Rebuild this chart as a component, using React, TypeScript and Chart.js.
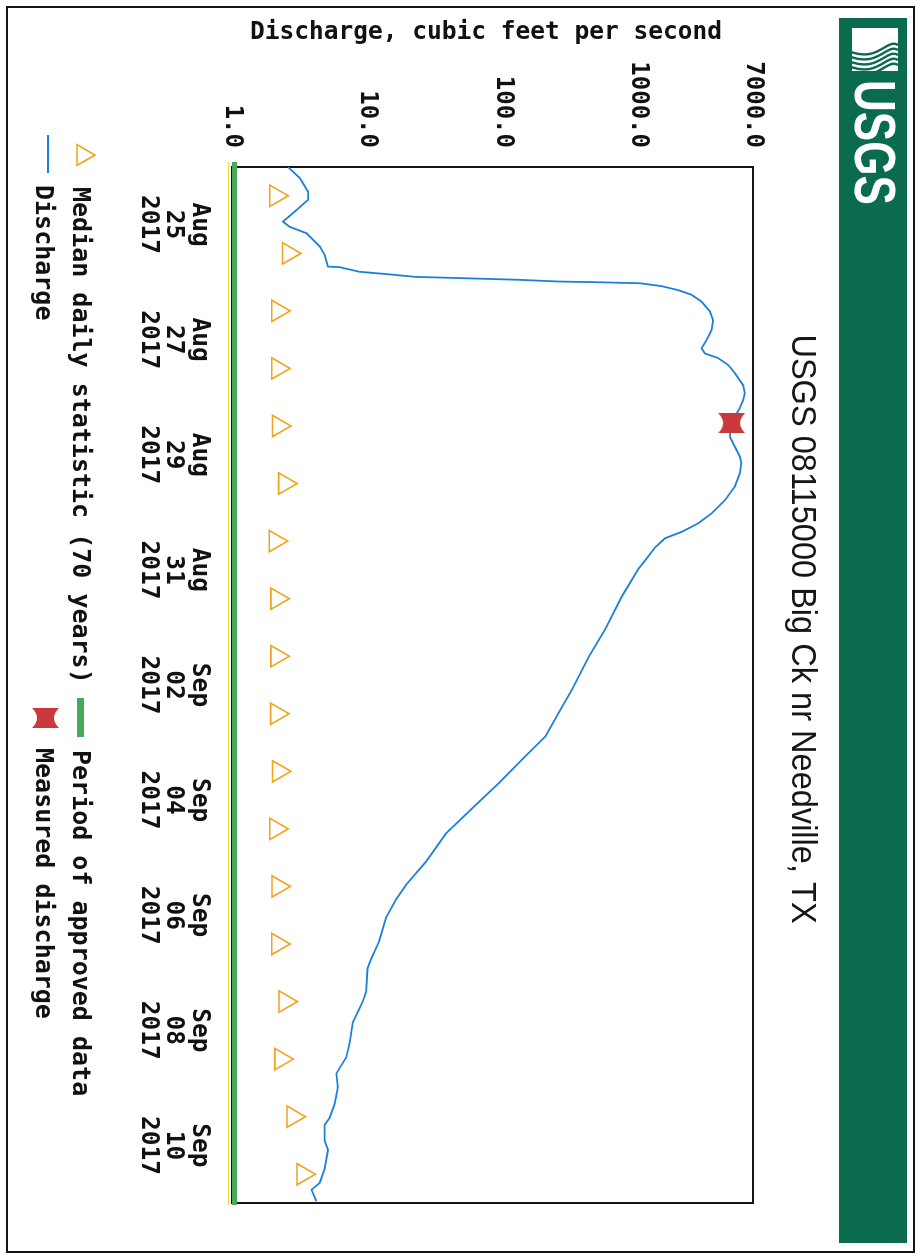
import React, { useEffect, useRef } from 'react';
import { Chart, registerables } from 'chart.js';

Chart.register(...registerables);

// Landscape drawing surface (rotated 90deg clockwise onto the page)
const W = 1257;
const H = 923;

const titleText = 'USGS 08115000 Big Ck nr Needville, TX';
const yAxisTitle = 'Discharge, cubic feet per second';
const legendMedian = 'Median daily statistic (70 years)';
const legendApproved = 'Period of approved data';
const legendDischarge = 'Discharge';
const legendMeasured = 'Measured discharge';

// Time in days since 2017-08-24 00:00, discharge in cubic feet per second
const dischargeDays = [0.00, 0.19, 0.43, 0.57, 0.75, 0.95, 1.04, 1.15, 1.38, 1.53, 1.73, 1.74, 1.82, 1.86, 1.91, 1.92,
  1.94, 1.96, 1.99, 2.00, 2.02, 2.07, 2.14, 2.22, 2.34, 2.51, 2.66, 2.83, 3.01, 3.15, 3.24, 3.32, 3.44, 3.58, 3.79, 3.93,
  4.05, 4.19, 4.33, 4.45, 4.69, 4.86, 5.03, 5.15, 5.32, 5.55, 5.79, 6.02, 6.19, 6.34, 6.45, 6.61, 6.80, 6.98, 7.46,
  8.03, 8.51, 9.08, 9.48, 9.89, 10.29, 10.70, 11.14, 11.58, 12.07, 12.47, 12.72, 13.04, 13.45, 13.77, 13.93, 14.33,
  14.50, 14.86, 15.22, 15.47, 15.75, 15.99, 16.28, 16.52, 16.64, 16.92, 17.08, 17.41, 17.65, 17.77, 17.97];
const dischargeCfs = [2.59, 3.16, 3.64, 3.64, 2.99, 2.38, 2.67, 3.54, 4.44, 4.83, 5.11, 6.22, 8.7, 13.7, 22.8, 33.8,
  66.6, 131, 258, 454, 1029, 1483, 1968, 2466, 2920, 3367, 3558, 3460, 3178, 2920, 3093, 3874, 4589, 5143, 5916, 6093,
  5916, 5594, 5167, 4830, 4723, 5143, 5594, 5750, 5594, 5143, 4345, 3460, 2763, 2081, 1571, 1327, 1151, 1000, 754,
  569, 429, 323, 258, 206, 139, 93.5, 59.5, 37.9, 27.0, 19.3, 16.3, 13.7, 12.2, 10.6, 10.0, 9.78,
  9.23, 7.80, 7.38, 6.97, 5.89, 6.05, 5.72, 5.26, 4.83, 4.83, 5.11, 4.83, 4.44, 3.86, 4.20];

const medianDays = [0.5, 1.5, 2.5, 3.5, 4.5, 5.5, 6.5, 7.5, 8.5, 9.5, 10.5, 11.5, 12.5, 13.5, 14.5, 15.5, 16.5, 17.5];
const medianCfs = [2.11, 2.62, 2.18, 2.18, 2.21, 2.45, 2.09, 2.15, 2.15, 2.14, 2.21, 2.11, 2.19, 2.18, 2.47, 2.30, 2.83, 3.35];

const measuredDays = [4.45];
const measuredCfs = [4870];

const xTickDays = [1, 3, 5, 7, 9, 11, 13, 15, 17];
const xTickLabels = [
  ['Aug', '25', '2017'], ['Aug', '27', '2017'], ['Aug', '29', '2017'], ['Aug', '31', '2017'],
  ['Sep', '02', '2017'], ['Sep', '04', '2017'], ['Sep', '06', '2017'], ['Sep', '08', '2017'], ['Sep', '10', '2017'],
];
const yTickValues = [1, 10, 100, 1000, 7000];
const yTickLabels = ['1.0', '10.0', '100.0', '1000.0', '7000.0'];

const BLUE = '#1c80d8';
const ORANGE = '#f2a31b';
const RED = '#c9383b';
const GREEN_BAR = '#0b6b4e';
const GREEN_LINE = '#48a85c';
const MONO = '"DejaVu Sans Mono", "Liberation Mono", monospace';

function makeMarker(): HTMLCanvasElement {
  const c = document.createElement('canvas');
  c.width = 20;
  c.height = 27;
  const g = c.getContext('2d') as CanvasRenderingContext2D;
  g.fillStyle = RED;
  g.beginPath();
  g.moveTo(0, 0);
  g.quadraticCurveTo(10, 10, 20, 0);
  g.lineTo(20, 27);
  g.quadraticCurveTo(10, 17, 0, 27);
  g.closePath();
  g.fill();
  return c;
}

function triangle(ctx: any, x: number, y: number, r: number) {
  let rad = 0;
  ctx.beginPath();
  ctx.moveTo(x + Math.sin(rad) * r, y - Math.cos(rad) * r);
  rad += (2 * Math.PI) / 3;
  ctx.lineTo(x + Math.sin(rad) * r, y - Math.cos(rad) * r);
  rad += (2 * Math.PI) / 3;
  ctx.lineTo(x + Math.sin(rad) * r, y - Math.cos(rad) * r);
  ctx.closePath();
  ctx.stroke();
}

export default function App() {
  const ref = useRef<HTMLCanvasElement>(null);

  useEffect(() => {
    const canvas = ref.current;
    if (!canvas) return;
    const marker = makeMarker();

    const decor = {
      id: 'decor',
      beforeDraw(chart: any) {
        const ctx = chart.ctx;
        ctx.save();
        ctx.fillStyle = '#fff';
        ctx.fillRect(0, 0, W, H);
        // outer frame
        ctx.strokeStyle = '#151515';
        ctx.lineWidth = 2;
        ctx.strokeRect(7, 9, 1245, 907);
        // banner
        ctx.fillStyle = GREEN_BAR;
        ctx.fillRect(18, 16, 1225, 68);
        // logo box
        ctx.fillStyle = '#fff';
        ctx.fillRect(28, 25, 43, 46);
        ctx.save();
        ctx.beginPath();
        ctx.rect(28, 25, 43, 46);
        ctx.clip();
        ctx.strokeStyle = GREEN_BAR;
        ctx.lineWidth = 2.4;
        for (let k = 0; k < 5; k++) {
          const o = k * 5;
          ctx.beginPath();
          ctx.moveTo(45 + o, 25);
          ctx.bezierCurveTo(38 + o, 36, 62 + o, 44, 52 + o, 72);
          ctx.stroke();
        }
        ctx.restore();
        // USGS word mark
        ctx.save();
        ctx.fillStyle = '#fff';
        ctx.font = 'bold 58px "Liberation Sans", Arial, sans-serif';
        ctx.textAlign = 'left';
        ctx.textBaseline = 'alphabetic';
        ctx.translate(80, 68);
        ctx.scale(0.76, 1);
        ctx.fillText('USGS', 0, 0);
        ctx.restore();
        // title
        ctx.save();
        ctx.fillStyle = '#161616';
        ctx.font = '35px "Liberation Sans", Arial, sans-serif';
        ctx.textAlign = 'center';
        ctx.textBaseline = 'middle';
        ctx.translate(629, 121);
        ctx.scale(0.93, 1);
        ctx.fillText(titleText, 0, 0);
        ctx.restore();
        // y axis title
        ctx.save();
        ctx.fillStyle = '#111';
        ctx.font = 'bold 24.5px ' + MONO;
        ctx.textAlign = 'center';
        ctx.textBaseline = 'middle';
        ctx.translate(33, 437);
        ctx.rotate(-Math.PI / 2);
        ctx.fillText(yAxisTitle, 0, 0);
        ctx.restore();
        // legend
        ctx.font = 'bold 25px ' + MONO;
        ctx.textAlign = 'left';
        ctx.textBaseline = 'middle';
        ctx.fillStyle = '#111';
        ctx.strokeStyle = ORANGE;
        ctx.lineWidth = 1.6;
        triangle(ctx, 155, 840, 12);
        ctx.fillText(legendMedian, 187, 843);
        ctx.fillStyle = GREEN_LINE;
        ctx.fillRect(698, 839, 39, 7);
        ctx.fillStyle = '#111';
        ctx.fillText(legendApproved, 750, 843);
        ctx.strokeStyle = BLUE;
        ctx.lineWidth = 2;
        ctx.beginPath();
        ctx.moveTo(135, 875);
        ctx.lineTo(173, 875);
        ctx.stroke();
        ctx.fillText(legendDischarge, 185, 880);
        ctx.drawImage(marker, 708, 864);
        ctx.fillText(legendMeasured, 748, 880);
        ctx.restore();
      },
      beforeDatasetsDraw(chart: any) {
        const ctx = chart.ctx;
        const { left, right, top, bottom } = chart.chartArea;
        ctx.save();
        ctx.strokeStyle = '#151515';
        ctx.lineWidth = 2;
        ctx.strokeRect(left, top, right - left, bottom - top);
        ctx.fillStyle = GREEN_LINE;
        ctx.fillRect(left - 5, bottom - 5, right - left + 7, 5);
        ctx.strokeStyle = '#e8d840';
        ctx.lineWidth = 1;
        ctx.beginPath();
        ctx.moveTo(left - 5, bottom + 3.5);
        ctx.lineTo(right + 2, bottom + 3.5);
        ctx.stroke();
        ctx.restore();
      },
    };

    const chart = new Chart(canvas, {
      type: 'line',
      data: {
        datasets: [
          {
            label: legendMeasured,
            data: measuredDays.map((d, i) => ({ x: d, y: measuredCfs[i] })),
            showLine: false,
            pointStyle: marker,
            pointRadius: 10,
          },
          {
            label: legendDischarge,
            data: dischargeDays.map((d, i) => ({ x: d, y: dischargeCfs[i] })),
            borderColor: BLUE,
            borderWidth: 1.8,
            pointRadius: 0,
            tension: 0,
            fill: false,
          },
          {
            label: legendMedian,
            data: medianDays.map((d, i) => ({ x: d, y: medianCfs[i] })),
            showLine: false,
            pointStyle: 'triangle',
            pointRadius: 12.3,
            borderColor: ORANGE,
            backgroundColor: 'rgba(0,0,0,0)',
            pointBorderWidth: 1.6,
          },
        ],
      } as any,
      options: {
        animation: false,
        responsive: false,
        maintainAspectRatio: false,
        events: [],
        layout: { padding: { left: 0, right: 54, top: 170, bottom: 0 } },
        plugins: { legend: { display: false }, tooltip: { enabled: false }, title: { display: false } },
        scales: {
          x: {
            type: 'linear',
            min: 0,
            max: 18,
            grid: { display: false, drawTicks: false },
            border: { display: false },
            afterBuildTicks: (s: any) => { s.ticks = xTickDays.map((v) => ({ value: v })); },
            afterFit: (s: any) => { s.height = 232; },
            ticks: {
              autoSkip: false,
              maxRotation: 0,
              minRotation: 0,
              padding: 20,
              color: '#111',
              font: { family: MONO, weight: 'bold', size: 24.5, lineHeight: 1.04 },
              callback: (v: any) => {
                const i = xTickDays.indexOf(Number(v));
                return i >= 0 ? xTickLabels[i] : '';
              },
            },
          },
          y: {
            type: 'logarithmic',
            min: 1,
            max: 7000,
            grid: { display: false, drawTicks: false },
            border: { display: false },
            afterBuildTicks: (s: any) => { s.ticks = yTickValues.map((v) => ({ value: v })); },
            afterFit: (s: any) => { s.width = 167; },
            ticks: {
              autoSkip: false,
              padding: 19,
              color: '#111',
              font: { family: MONO, weight: 'bold', size: 24 },
              callback: (v: any) => {
                const i = yTickValues.indexOf(Number(v));
                return i >= 0 ? yTickLabels[i] : '';
              },
            },
          },
        },
      } as any,
      plugins: [decor],
    });

    return () => chart.destroy();
  }, []);

  return (
    <div style={{ position: 'fixed', left: 0, top: 0, width: H, height: W, overflow: 'hidden', background: '#fff' }}>
      <div
        style={{
          position: 'absolute',
          left: 0,
          top: 0,
          width: W,
          height: H,
          transformOrigin: '0 0',
          transform: `translate(${H}px, 0px) rotate(90deg)`,
        }}
      >
        <canvas ref={ref} width={W} height={H} />
      </div>
    </div>
  );
}
